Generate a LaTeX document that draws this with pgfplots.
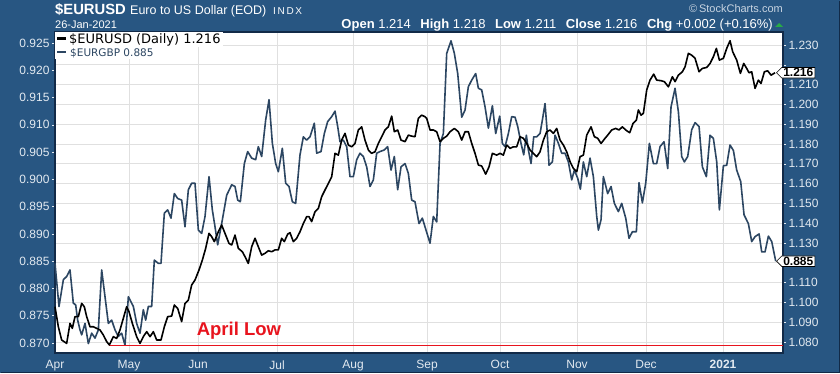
\documentclass[border=0pt]{standalone}
\usepackage{pgfplots}
\pgfplotsset{compat=1.18}
\usepackage{fontspec}
\setmainfont{Liberation Sans}
\newfontfamily\dejavu{DejaVu Sans}
\usetikzlibrary{shapes.symbols}
\definecolor{bgblue}{RGB}{40,86,130}
\definecolor{gbpcol}{RGB}{44,70,98}
\definecolor{tickcol}{RGB}{226,233,240}
\definecolor{framecol}{RGB}{18,42,72}
\definecolor{gridcol}{RGB}{224,224,224}
\definecolor{lowred}{RGB}{232,20,30}
\definecolor{upgreen}{RGB}{40,170,70}
\definecolor{copycol}{RGB}{200,212,225}
\newcommand{\fs}[1]{\fontsize{#1}{#1}\selectfont}
\pgfplotsset{base/.style={at={(55pt,20pt)}, anchor=south west, scale only axis,
  width=728pt, height=321pt, xmin=0, xmax=211,
  /pgf/number format/assume math mode=true}}
\begin{document}
\begin{tikzpicture}
\fill[bgblue] (0pt,0pt) rectangle (840pt,373pt);
\draw[framecol, line width=1.5pt] (0.75pt,0.75pt) -- (839.25pt,0.75pt) -- (839.25pt,372.25pt);
% header
\begin{scope}[every node/.style={inner sep=0pt, text=white}]
\node[anchor=base west, font=\bfseries\fs{14.8}] at (55pt,358pt) {\$EURUSD};
\node[anchor=base west, font=\fs{12.5}] at (130pt,358pt) {Euro to US Dollar (EOD)};
\node[anchor=base west, font=\fs{10}] at (273pt,358pt) {I\,N\,D\,X};
\node[anchor=base west, font=\fs{11}] at (55pt,344pt) {26-Jan-2021};
\node[anchor=base east, font=\fs{13}] at (773pt,344pt) {\textbf{Open} 1.214\hspace{6pt} \textbf{High} 1.218\hspace{6pt} \textbf{Low} 1.211\hspace{6pt} \textbf{Close} 1.216\hspace{6pt} \textbf{Chg} +0.002 (+0.16\%)};
\node[anchor=base east, font=\fs{11}, text=copycol] at (783pt,360pt) {\textcopyright\,StockCharts.com};
\end{scope}
\fill[upgreen] (775pt,346pt) -- (783pt,346pt) -- (779pt,350pt) -- cycle;

% axis A: right scale, background, grid, x labels
\begin{axis}[base, ymin=1.07444, ymax=1.2366,
  axis background/.style={fill=white},
  axis line style={draw=framecol, line width=1.2pt},
  xtick={0,21.45,41.45,64.35,86.38,107.83,128.99,151.30,171.30,193.62},
  xticklabels={Apr,May,Jun,Jul,Aug,Sep,Oct,Nov,Dec,\textbf{2021}},
  xtick pos=bottom, xtick style={draw=none},
  ytick={1.08,1.09,1.10,1.11,1.12,1.13,1.14,1.15,1.16,1.17,1.18,1.19,1.20,1.21,1.22,1.23},
  yticklabels={1.080,1.090,1.100,1.110,,1.130,1.140,1.150,1.160,1.170,1.180,1.190,1.200,1.210,,1.230},
  ytick pos=right, yticklabel pos=right,
  xmajorgrids, ymajorgrids, major grid style={draw=gridcol, line width=0.8pt},
  ticklabel style={text=tickcol, font=\fs{12}},
  yticklabel style={xshift=-1pt},
  xticklabel style={yshift=-1pt},
  ytick style={draw=tickcol, line width=0.6pt}, tick align=outside, major tick length=3pt]
\end{axis}

% axis B: left scale, EURGBP
\begin{axis}[base, ymin=0.86817, ymax=0.92702, clip=false,
  axis x line=none, axis y line*=left,
  y axis line style={draw=framecol, line width=1.2pt, -},
  ytick={0.870,0.875,0.880,0.885,0.890,0.895,0.900,0.905,0.910,0.915,0.920,0.925},
  ticklabel style={text=tickcol, font=\fs{12}},
  yticklabel style={/pgf/number format/fixed, /pgf/number format/fixed zerofill, /pgf/number format/precision=3, xshift=1pt},
  ytick style={draw=tickcol, line width=0.6pt}, tick align=outside, major tick length=3pt]
\addplot[gbpcol, line width=1.6pt, line join=round] coordinates {
(0,0.8846) (1.16,0.8767) (2.42,0.8816) (3.38,0.8822) (4.35,0.8834) (5.31,0.8773) (5.99,0.8770) (6.57,0.8742) (7.25,0.8724) (7.73,0.8715) (8.70,0.8736) (9.66,0.8699) (10.63,0.8718) (11.59,0.8709) (12.56,0.8724) (13.53,0.8834) (14.49,0.8785) (15.46,0.8736) (16.43,0.8742) (17.39,0.8724) (18.36,0.8712) (19.32,0.8718) (20.29,0.8696) (21.26,0.8785) (22.71,0.8767) (23.67,0.8736) (24.64,0.8718) (25.60,0.8761) (26.28,0.8742) (27.05,0.8767) (28.02,0.8767) (28.79,0.8852) (29.95,0.8846) (30.72,0.8846) (31.69,0.8938) (32.66,0.8944) (33.62,0.8929) (34.59,0.8974) (35.56,0.8965) (36.71,0.8962) (37.68,0.8913) (38.65,0.8981) (39.61,0.8993) (40.58,0.8993) (41.55,0.8907) (42.51,0.8901) (43.48,0.8932) (44.64,0.9005) (45.60,0.8944) (46.38,0.8913) (47.15,0.8880) (48.31,0.8919) (49.76,0.8971) (51.21,0.8990) (52.17,0.8987) (52.95,0.8962) (53.72,0.8959) (54.88,0.9029) (55.84,0.9051) (57.00,0.9039) (58.16,0.9036) (58.93,0.9060) (59.90,0.9042) (61.06,0.9109) (62.03,0.9146) (63.00,0.9066) (63.96,0.9029) (64.73,0.9014) (65.89,0.9057) (66.86,0.8993) (67.82,0.8987) (68.79,0.8959) (69.75,0.8956) (71.01,0.9045) (71.98,0.9078) (72.94,0.9072) (73.91,0.9078) (75.16,0.9103) (75.84,0.9048) (77.10,0.9051) (78.06,0.9084) (79.03,0.9106) (80.19,0.9115) (81.16,0.9125) (81.93,0.9097) (82.60,0.9069) (83.57,0.9072) (84.54,0.9060) (85.50,0.9005) (86.47,0.9005) (87.44,0.9036) (88.40,0.9048) (89.37,0.9042) (90.33,0.9023) (91.30,0.8987) (92.27,0.8999) (93.23,0.9048) (94.20,0.9051) (95.46,0.9054) (96.42,0.9060) (97.39,0.9017) (98.35,0.9042) (99.32,0.8981) (100.29,0.9023) (101.45,0.9029) (102.41,0.9011) (103.38,0.8962) (104.34,0.8959) (105.50,0.8919) (106.47,0.8929) (107.24,0.8913) (108.70,0.8883) (109.66,0.8932) (110.63,0.8922) (111.60,0.9066) (112.56,0.9084) (113.53,0.9231) (114.78,0.9254) (115.75,0.9231) (116.72,0.9194) (117.88,0.9114) (118.84,0.9127) (119.81,0.9170) (120.78,0.9182) (121.93,0.9194) (122.71,0.9167) (123.67,0.9164) (124.64,0.9133) (125.61,0.9094) (126.77,0.9135) (127.73,0.9084) (128.89,0.9116) (129.66,0.9066) (130.44,0.9060) (131.40,0.9084) (132.37,0.9115) (133.34,0.9114) (134.11,0.9097) (135.07,0.9066) (135.85,0.9045) (136.62,0.9081) (137.20,0.9054) (137.97,0.9029) (138.75,0.9078) (139.62,0.9078) (140.58,0.9084) (141.26,0.9109) (142.03,0.9139) (142.61,0.9091) (143.19,0.9026) (144.16,0.9032) (144.93,0.9081) (145.90,0.9066) (146.86,0.9048) (147.83,0.9048) (148.79,0.9032) (149.76,0.8999) (150.53,0.9017) (151.50,0.9002) (152.27,0.8982) (153.14,0.9032) (154.11,0.9005) (155.07,0.9039) (156.04,0.9005) (157.01,0.8932) (157.49,0.8907) (158.26,0.8926) (158.94,0.9005) (160.19,0.8974) (161.16,0.8987) (162.12,0.8956) (163.28,0.8941) (164.25,0.8956) (165.41,0.8929) (166.38,0.8892) (167.34,0.8904) (168.50,0.8904) (169.27,0.8994) (170.24,0.8957) (171.21,0.8993) (172.27,0.9066) (173.43,0.9029) (174.39,0.9029) (175.36,0.9060) (176.52,0.9069) (177.58,0.9020) (178.55,0.9133) (179.71,0.9167) (180.68,0.9124) (181.64,0.9042) (182.41,0.9032) (183.38,0.9042) (184.54,0.9091) (185.51,0.9104) (186.67,0.9097) (187.63,0.9023) (188.79,0.9005) (189.85,0.9081) (190.82,0.9075) (191.79,0.9032) (192.56,0.8944) (193.72,0.9025) (194.68,0.9026) (195.65,0.9063) (196.62,0.9053) (197.58,0.9017) (198.74,0.8996) (199.71,0.8935) (200.96,0.8919) (201.93,0.8886) (202.90,0.8895) (204.06,0.8900) (204.83,0.8867) (205.79,0.8867) (206.76,0.8896) (207.73,0.8886) (208.89,0.8850)
};
\node[signal, signal to=west, draw=black, fill=white, line width=0.6pt, inner xsep=1.5pt, inner ysep=1pt, font=\bfseries\fs{12}, anchor=west] at (axis cs:209.0,0.885) {0.885};
\node[font=\bfseries\fs{18.5}, text=lowred, inner sep=0pt] at (axis cs:53.3,0.8722) {April Low};
\end{axis}

% axis C: right scale, EURUSD
\begin{axis}[base, ymin=1.07444, ymax=1.2366, hide axis, clip=false]
\addplot[lowred, line width=0.9pt] coordinates {(15.6,1.0785) (211,1.0785)};
\addplot[black, line width=1.6pt, line join=round] coordinates {
(0,1.0978) (0.97,1.0877) (1.93,1.0810) (3.38,1.0793) (4.35,1.0894) (5.02,1.0869) (5.80,1.0928) (6.76,1.0928) (7.73,1.0995) (8.50,1.0978) (9.18,1.0928) (10.14,1.0877) (11.11,1.0877) (12.08,1.0869) (13.04,1.0861) (14.01,1.0835) (14.98,1.0802) (15.75,1.0785) (16.91,1.0827) (17.87,1.0818) (18.84,1.0861) (19.81,1.0920) (20.77,1.0978) (21.45,1.0953) (22.42,1.0894) (23.67,1.0827) (24.64,1.0793) (25.60,1.0827) (26.57,1.0852) (27.54,1.0827) (28.50,1.0852) (29.47,1.0810) (30.72,1.0810) (31.69,1.0877) (32.66,1.0928) (33.82,1.0931) (34.59,1.0987) (35.56,1.0970) (36.71,1.0903) (37.68,1.0995) (38.65,1.1012) (39.61,1.1088) (40.58,1.1113) (41.74,1.1164) (42.71,1.1214) (43.67,1.1273) (44.64,1.1349) (45.41,1.1332) (46.18,1.1307) (47.34,1.1357) (48.31,1.1391) (49.47,1.1340) (50.43,1.1298) (51.21,1.1290) (52.17,1.1340) (53.14,1.1273) (54.30,1.1256) (55.07,1.1231) (56.03,1.1197) (57.00,1.1281) (57.97,1.1324) (58.93,1.1281) (59.90,1.1239) (60.87,1.1248) (61.83,1.1261) (62.80,1.1256) (63.76,1.1265) (64.73,1.1265) (65.70,1.1324) (66.47,1.1307) (67.44,1.1345) (68.11,1.1352) (69.08,1.1307) (70.04,1.1324) (71.01,1.1357) (71.98,1.1399) (72.94,1.1433) (73.62,1.1433) (74.39,1.1408) (75.36,1.1458) (76.33,1.1475) (77.29,1.1534) (78.26,1.1568) (79.22,1.1601) (80.19,1.1635) (81.16,1.1753) (82.12,1.1744) (83.09,1.1820) (84.05,1.1854) (85.02,1.1795) (85.99,1.1786) (86.95,1.1803) (87.92,1.1871) (88.88,1.1887) (89.85,1.1820) (90.82,1.1770) (91.78,1.1753) (92.75,1.1761) (93.72,1.1803) (94.68,1.1837) (95.65,1.1871) (96.61,1.1887) (97.58,1.1941) (98.35,1.1862) (99.32,1.1871) (100.29,1.1820) (101.45,1.1812) (102.41,1.1845) (103.38,1.1840) (104.34,1.1837) (105.31,1.1930) (106.28,1.1946) (107.24,1.1938) (107.73,1.1930) (108.70,1.1871) (109.66,1.1871) (110.63,1.1862) (111.60,1.1812) (112.56,1.1829) (113.53,1.1840) (114.49,1.1862) (115.75,1.1879) (116.91,1.1862) (117.88,1.1820) (118.84,1.1862) (119.81,1.1862) (120.78,1.1803) (121.74,1.1753) (122.71,1.1694) (123.67,1.1689) (124.83,1.1648) (125.80,1.1685) (126.77,1.1753) (128.02,1.1744) (128.99,1.1753) (129.95,1.1744) (130.92,1.1795) (131.89,1.1778) (132.85,1.1786) (133.82,1.1786) (134.79,1.1837) (135.75,1.1829) (136.72,1.1803) (137.68,1.1770) (138.65,1.1753) (139.62,1.1736) (140.58,1.1761) (141.55,1.1820) (142.51,1.1862) (143.48,1.1871) (144.45,1.1854) (145.41,1.1879) (146.38,1.1820) (147.35,1.1795) (148.31,1.1761) (149.28,1.1711) (150.24,1.1677) (151.21,1.1660) (152.18,1.1736) (153.14,1.1744) (154.11,1.1845) (155.36,1.1887) (156.33,1.1837) (157.30,1.1829) (158.26,1.1803) (159.42,1.1829) (160.19,1.1845) (161.35,1.1871) (162.51,1.1879) (163.48,1.1871) (164.44,1.1887) (165.41,1.1871) (166.57,1.1857) (167.53,1.1904) (168.50,1.1921) (169.08,1.1972) (169.85,1.1946) (170.53,1.1955) (171.50,1.2073) (172.46,1.2123) (173.52,1.2153) (174.39,1.2123) (175.65,1.2120) (176.62,1.2115) (177.78,1.2089) (178.94,1.2140) (179.71,1.2115) (180.68,1.2148) (181.83,1.2165) (182.61,1.2190) (183.57,1.2258) (184.54,1.2249) (185.51,1.2233) (186.67,1.2165) (187.63,1.2182) (188.89,1.2187) (189.85,1.2207) (190.82,1.2241) (191.69,1.2283) (192.56,1.2224) (193.72,1.2233) (194.68,1.2283) (195.65,1.2322) (196.42,1.2266) (197.58,1.2224) (198.65,1.2157) (199.61,1.2207) (200.48,1.2182) (201.16,1.2160) (201.93,1.2165) (202.90,1.2081) (203.86,1.2123) (204.63,1.2106) (205.60,1.2165) (206.56,1.2170) (207.53,1.2148) (208.70,1.2160)
};
\node[signal, signal to=west, draw=black, fill=white, line width=0.6pt, inner xsep=1.5pt, inner ysep=1pt, font=\bfseries\fs{12}, anchor=west] at (axis cs:209.0,1.216) {1.216};
% legend
\node[anchor=north west, fill=white, inner xsep=2pt, inner ysep=1pt, font=\dejavu\fs{13}] (l1) at (rel axis cs:0,1) {\raisebox{3.5pt}{\rule{9pt}{2.6pt}}\hspace{3pt}\$EURUSD (Daily) 1.216};
\node[anchor=north west, fill=white, inner xsep=2pt, inner ysep=1pt, font=\dejavu\fs{10.5}, text=gbpcol] at (l1.south west) {\raisebox{3pt}{\rule{9pt}{2.6pt}}\hspace{4pt}\$EURGBP 0.885};
\end{axis}
\pgfresetboundingbox
\path[use as bounding box] (0pt,0pt) rectangle (840pt,373pt);
\end{tikzpicture}
\end{document}
